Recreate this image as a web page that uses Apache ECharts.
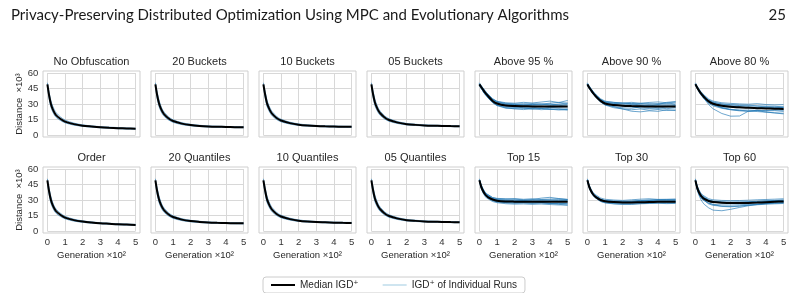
<!DOCTYPE html>
<html>
<head>
<meta charset="utf-8">
<script src="https://cdn.jsdelivr.net/npm/echarts@6/dist/echarts.min.js"></script>
<style>
    html, body { margin: 0; padding: 0; background: #fff; }
    #chart { width: 800px; height: 293px; }
</style>
</head>
<body>
<div id="chart"></div>
<script>
    // generation axis (x 10^2), shared by every run
    var generations = [0, 0.1, 0.2, 0.3, 0.4, 0.5, 0.75, 1, 1.5, 2, 2.5, 3, 3.5, 4, 4.5, 5]

    var xTicks = [0, 1, 2, 3, 4, 5]
    var yTicks = [0, 15, 30, 45, 60]

    var panelTitles = [
        'No Obfuscation', '20 Buckets', '10 Buckets', '05 Buckets', 'Above 95 %', 'Above 90 %', 'Above 80 %',
        'Order', '20 Quantiles', '10 Quantiles', '05 Quantiles', 'Top 15', 'Top 30', 'Top 60'
    ]

    // median IGD+ per panel (distance x 10^3)
    var medianNoObf = [49, 38, 30, 25, 21.5, 19, 15.5, 13, 10.5, 9, 8.2, 7.5, 7, 6.6, 6.3, 6.0]
    var median20B = [49, 38.5, 31, 26, 22.5, 20, 16, 13.5, 11, 9.6, 8.8, 8.3, 8, 7.8, 7.6, 7.5]
    var median10B = [49, 39, 31, 26.5, 23, 20.5, 16.5, 14, 11.5, 10, 9.2, 8.7, 8.4, 8.2, 8.0, 7.9]
    var median05B = [49, 39, 31.5, 27, 23.5, 21, 17, 14.5, 12, 10.5, 9.8, 9.3, 9.0, 8.8, 8.6, 8.5]
    var medianA95 = [49, 46.5, 44, 41.5, 39.5, 37.5, 33, 30.5, 28.5, 28, 27.8, 27.7, 27.6, 27.6, 27.5, 27.5]
    var medianA90 = [49, 46, 43.5, 41, 39, 37, 33, 30.5, 29, 28.3, 28, 27.8, 27.6, 27.5, 27.6, 27.7]
    var medianA80 = [49, 46, 43, 40.5, 38.5, 36.5, 32.5, 30.2, 28.3, 27.3, 26.8, 26.3, 26, 25.7, 25.4, 25.2]
    var medianOrder = [49, 38, 30, 25, 21.5, 19, 15.5, 13, 10.5, 9.1, 8.2, 7.5, 7, 6.5, 6.2, 5.9]
    var median20Q = [49, 38.5, 31, 26, 22.5, 20, 16, 13.5, 11, 9.6, 8.8, 8.2, 7.9, 7.7, 7.5, 7.4]
    var median10Q = [49, 39, 31, 26.5, 23, 20.5, 16.5, 14, 11.5, 10, 9.2, 8.7, 8.4, 8.1, 7.9, 7.8]
    var median05Q = [49, 39, 31.5, 27, 23.5, 21, 17, 14.5, 12, 10.5, 9.8, 9.3, 9, 8.8, 8.6, 8.5]
    var medianT15 = [49, 43, 39, 36, 34, 32.5, 30.5, 29.3, 28.6, 28.4, 28.3, 28.3, 28.3, 28.3, 28.2, 28.2]
    var medianT30 = [49, 43, 39, 36, 34, 32.5, 30, 28.8, 28, 27.6, 27.6, 27.8, 28, 28.2, 28.3, 28.4]
    var medianT60 = [49, 42, 37.5, 34.5, 32.5, 31, 29, 28, 27.3, 27, 27, 27.2, 27.5, 27.9, 28.3, 28.6]

    // individual runs per panel
    var runsNoObf = [
        [47.5, 35, 27, 22.5, 19.3, 17, 14, 11.8, 9.6, 8.4, 7.6, 7, 6.5, 6.1, 5.8, 5.5],
        [50.5, 41, 33, 28, 24.2, 21.4, 17.3, 14.4, 11.5, 9.8, 8.8, 8.1, 7.6, 7.2, 6.8, 6.5]
    ]
    var runs20B = [
        [47.5, 35.5, 28, 23.5, 20.3, 18, 14.5, 12.3, 10.1, 8.9, 8.2, 7.8, 7.5, 7.3, 7.1, 7],
        [50.5, 41.5, 34, 28.5, 24.7, 22, 17.5, 14.7, 11.9, 10.3, 9.4, 8.8, 8.5, 8.3, 8.1, 8]
    ]
    var runs10B = [
        [47.5, 36, 28, 24, 20.8, 18.5, 15, 12.8, 10.6, 9.3, 8.6, 8.2, 7.9, 7.7, 7.5, 7.4],
        [50.5, 42, 34, 29, 25.2, 22.5, 18, 15.2, 12.4, 10.7, 9.8, 9.2, 8.9, 8.7, 8.5, 8.4]
    ]
    var runs05B = [
        [47.5, 36, 28.5, 24.5, 21.3, 19, 15.5, 13.3, 11.1, 9.8, 9.2, 8.8, 8.5, 8.3, 8.1, 8],
        [50.5, 42, 34.5, 29.5, 25.7, 23, 18.5, 15.7, 12.9, 11.2, 10.4, 9.8, 9.5, 9.3, 9.1, 9]
    ]
    var runsA95 = [
        [47.5, 45, 42.5, 40, 38, 36, 31.5, 28.8, 26.4, 25.2, 24.6, 25.4, 24.5, 25, 24.2, 24.6],
        [50.5, 48, 45.5, 43.5, 41.2, 39.2, 35, 32.4, 30.6, 30.2, 29.6, 30.4, 29.9, 30.8, 31.6, 30.6],
        [49, 45.2, 42.4, 39.6, 37.8, 35.6, 31.2, 28.4, 25.9, 25.6, 26.4, 25, 25.8, 24.6, 25.3, 24.4],
        [49.2, 47.2, 44.6, 42.4, 40.3, 38.5, 34.4, 31.8, 29.8, 29.4, 30.3, 29.5, 30.1, 29.2, 30, 31],
        [48.5, 46.2, 43, 40.7, 38.8, 36.9, 32.6, 29.9, 27.6, 27.4, 26.2, 27, 25.6, 26.8, 26.3, 25.9],
        [49.7, 47.6, 45.3, 42.6, 40.8, 39, 35, 32.6, 31.2, 30.8, 31.6, 31, 31.9, 32.8, 31.4, 33.4],
        [48.8, 46, 43.3, 41.2, 39.2, 37.2, 32.9, 30.1, 28.6, 28.3, 27.9, 28.6, 27.8, 28.3, 28.9, 27.4],
        [49.2, 46.6, 44.3, 41.6, 39.4, 37.6, 33.3, 30.7, 28.9, 27.2, 28.1, 27.1, 27.9, 27, 27.7, 28.2],
        [48.3, 45.6, 42.7, 40, 38.1, 36.2, 31.8, 29, 26.9, 26.6, 25.8, 25.6, 26.3, 25.4, 24.8, 24.3],
        [49.6, 47.1, 44.9, 42.4, 40.3, 38.4, 34.2, 31.7, 29.9, 29.4, 28.9, 29.6, 29.2, 30.1, 29.1, 29.6]
    ]
    var runsA90 = [
        [47.5, 45, 42.5, 40, 38, 36, 31.8, 29, 26.4, 25.2, 24.4, 25.2, 24, 24.7, 23.8, 24.3],
        [50.5, 47.6, 45.2, 42.8, 40.8, 38.8, 35, 32.8, 31.5, 31, 31.6, 30.8, 31.5, 32, 31.2, 31.8],
        [49, 45.8, 43.2, 40.6, 38.7, 36.8, 32.5, 29.6, 27.4, 25.2, 23, 22.4, 23.4, 22.9, 24.4, 23.6],
        [49, 46.6, 44.2, 41.8, 39.7, 37.7, 33.9, 31.6, 30.4, 30, 29.7, 30.6, 29.6, 30.4, 30, 30.9],
        [48.5, 46, 43.4, 41, 38.9, 36.6, 32.8, 30.4, 28.6, 27.9, 27.2, 27.4, 26.8, 27.8, 27.3, 26.9],
        [49.5, 47, 44.5, 42.2, 40.2, 38.4, 34.5, 32.2, 31.6, 31, 30.2, 29, 28, 29.5, 31.6, 32.4],
        [48.8, 46.1, 43.6, 41.1, 39.1, 37.1, 33.1, 30.6, 29.1, 28.6, 28.9, 28.3, 28.6, 28.2, 28.5, 28.2],
        [49.2, 46.5, 43.9, 41.4, 39.4, 37.5, 33.5, 30.9, 29.4, 28.4, 27.4, 26.2, 25.6, 25.9, 27.2, 28.4],
        [48.4, 45.4, 42.8, 40.2, 38.2, 36.2, 32, 29.2, 27.5, 26.3, 25.9, 27.2, 27.8, 26.2, 25.5, 26.3],
        [49.6, 47, 44.4, 42, 40, 38.2, 34.3, 31.9, 30.6, 30.2, 30.6, 29.9, 30.4, 29.8, 30.2, 29.4]
    ]
    var runsA80 = [
        [48, 45.5, 42.5, 40, 38, 36, 32, 29.4, 26.4, 24.8, 24, 23.2, 22.7, 22.1, 21.5, 21],
        [50.5, 47.4, 44.6, 42.2, 40.3, 38.5, 34.8, 32.8, 31.2, 30.6, 30.1, 29.8, 30.3, 29.5, 29.1, 29.4],
        [49, 45.8, 42.6, 39.8, 37.4, 35, 29.5, 25.4, 20.8, 18.2, 18.4, 23, 24, 23.6, 24.3, 23.9],
        [49, 46.3, 43.5, 41, 39, 37.2, 33, 30.8, 28.8, 27.9, 27.2, 27, 26.4, 26.6, 25.9, 26.3],
        [48.5, 45, 41.8, 39, 36.8, 34.8, 30.6, 28.2, 25.8, 24.4, 23.4, 22.8, 23.6, 22.2, 21.3, 20.4],
        [49.5, 46.8, 44, 41.7, 39.6, 37.8, 33.9, 31.8, 30.2, 29.4, 29, 28.8, 28.3, 28, 27.8, 27.2],
        [48.8, 45.9, 43.1, 40.6, 38.6, 36.7, 32.7, 30.4, 28.5, 27.6, 27.1, 26.6, 26.2, 25.8, 25.3, 24.8],
        [49.2, 46.3, 43.3, 40.8, 38.8, 36.9, 32.6, 29.6, 26.4, 24.6, 24, 24.1, 23.8, 23.3, 23.6, 22.8],
        [48.6, 45.4, 42.3, 39.6, 37.5, 35.5, 31.4, 29.1, 27.2, 26.8, 26.3, 26.9, 26.3, 27, 26.6, 27.1],
        [49.4, 46.6, 43.8, 41.4, 39.5, 37.6, 33.7, 31.5, 29.8, 28.9, 28.5, 28.1, 27.8, 27.3, 27, 26.5]
    ]
    var runsOrder = [
        [47.5, 35, 27, 22.5, 19.3, 17, 14, 11.8, 9.6, 8.4, 7.6, 7, 6.5, 6, 5.7, 5.4],
        [50.5, 41, 33, 27.5, 23.7, 21, 17, 14.2, 11.4, 9.8, 8.8, 8, 7.5, 7, 6.7, 6.4]
    ]
    var runs20Q = [
        [47.5, 35.5, 28, 23.5, 20.3, 18, 14.5, 12.3, 10.1, 8.9, 8.2, 7.7, 7.4, 7.2, 7, 6.9],
        [50.5, 41.5, 34, 28.5, 24.7, 22, 17.5, 14.7, 11.9, 10.3, 9.4, 8.7, 8.4, 8.2, 8, 7.9]
    ]
    var runs10Q = [
        [47.5, 36, 28, 24, 20.8, 18.5, 15, 12.8, 10.6, 9.3, 8.6, 8.2, 7.9, 7.6, 7.4, 7.3],
        [50.5, 42, 34, 29, 25.2, 22.5, 18, 15.2, 12.4, 10.7, 9.8, 9.2, 8.9, 8.6, 8.4, 8.3]
    ]
    var runs05Q = [
        [47.5, 36, 28.5, 24.5, 21.3, 19, 15.5, 13.3, 11.1, 9.8, 9.2, 8.8, 8.5, 8.3, 8.1, 8],
        [50.5, 42, 34.5, 29.5, 25.7, 23, 18.5, 15.7, 12.9, 11.2, 10.4, 9.8, 9.5, 9.3, 9.1, 9]
    ]
    var runsT15 = [
        [48, 41, 37, 34, 32, 30.5, 28.5, 27.4, 26.4, 26, 26.2, 25.8, 26.1, 25.6, 25.2, 25.4],
        [50.5, 45, 41.2, 38.2, 36.2, 34.6, 32.3, 31.2, 30.8, 31.4, 30.7, 31.2, 30.5, 30.9, 31.2, 30.6],
        [49, 42.2, 38.2, 35.4, 33.3, 31.8, 29.6, 28.3, 27.4, 27, 27.3, 26.8, 27, 26.6, 26.9, 26.4],
        [49, 43.8, 39.8, 37, 35, 33.4, 31.4, 30.4, 29.9, 29.8, 29.6, 30.4, 31.8, 32.6, 31.4, 30.5],
        [48.5, 42.6, 38.6, 35.6, 33.6, 32.2, 30, 28.9, 28.2, 28.1, 27.9, 28.4, 27.6, 26.8, 25.9, 24.8],
        [49.5, 44.4, 40.6, 37.8, 35.8, 34.3, 32.4, 31.6, 31.2, 30.8, 30.2, 29.8, 30.3, 29.9, 30.4, 30.1],
        [48.8, 42.8, 38.9, 36, 34, 32.6, 30.6, 29.5, 28.8, 28.7, 28.9, 28.5, 28.9, 28.6, 28.8, 28.9],
        [49.2, 43.3, 39.3, 36.4, 34.3, 32.8, 30.8, 29.6, 28.9, 28.2, 28.6, 28, 28.3, 28.7, 28.1, 28.4],
        [48.6, 42, 38, 35, 33, 31.5, 29.4, 28.2, 27.5, 27.1, 27.3, 26.9, 27.5, 27, 26.5, 26.9],
        [49.4, 43.8, 39.9, 37, 35, 33.4, 31.4, 30.4, 29.8, 29.8, 29.5, 29.9, 29.6, 29.9, 29.4, 29.7]
    ]
    var runsT30 = [
        [48, 41.6, 37.6, 34.6, 32.6, 31, 28.5, 27.2, 26.2, 25.8, 25.7, 26.3, 26.6, 26.8, 26.5, 26.7],
        [50.5, 44.8, 40.8, 37.9, 35.8, 34.3, 31.9, 30.7, 30, 29.6, 30.2, 30.8, 31.2, 30.6, 30.7, 31],
        [49, 42.6, 38.4, 35.5, 33.4, 31.9, 29.4, 28.2, 27.2, 26.9, 27, 27.5, 27.8, 28.3, 28, 28.2],
        [49, 43.6, 39.7, 36.8, 34.8, 33.2, 30.8, 29.7, 29.2, 28.8, 29, 29.6, 29.9, 30.1, 30.3, 30.2],
        [48.5, 42.2, 38.1, 35.1, 33, 31.4, 28.8, 27.5, 26.5, 26, 26.2, 26.6, 26.9, 27.2, 27, 27.1],
        [49.5, 43.9, 39.9, 36.9, 34.7, 33.1, 30.6, 29.3, 28.5, 28.2, 28.7, 29.4, 29.9, 30.3, 30.1, 29.8],
        [48.8, 42.9, 38.9, 36, 34, 32.5, 30.1, 28.9, 28.1, 27.8, 27.8, 28.1, 28.3, 28.5, 28.6, 28.7],
        [49.2, 43.2, 39.2, 36.2, 34.2, 32.7, 30.3, 29, 28.3, 27.9, 28, 28.5, 28.8, 28.9, 29.1, 29],
        [48.6, 42.6, 38.6, 35.7, 33.7, 32.2, 29.7, 28.5, 27.6, 27.2, 27.3, 27.5, 27.6, 27.9, 28.1, 27.9],
        [49.4, 43.4, 39.4, 36.4, 34.4, 32.9, 30.4, 29.2, 28.4, 28.1, 28.3, 29, 29.5, 29.7, 29.9, 30.2]
    ]
    var runsT60 = [
        [48, 40.2, 35.6, 32.6, 30.5, 29, 26.8, 25.8, 25.2, 25.1, 25.4, 25.8, 26.2, 26.6, 27, 27.2],
        [50.5, 44, 39.8, 36.9, 34.9, 33.4, 31.2, 30.2, 29.6, 29.4, 29.5, 29.8, 30.2, 30.5, 30.8, 31.2],
        [49, 40, 34.6, 30.8, 28, 25.8, 22.4, 20.2, 19.6, 21, 22.8, 24.4, 25.6, 26.4, 27, 27.4],
        [49, 42.8, 38.4, 35.4, 33.4, 31.8, 29.5, 28.4, 27.7, 27.4, 27.4, 27.7, 28, 28.5, 28.9, 29.2],
        [48.5, 41, 36.4, 33.2, 30.8, 29, 26.2, 24.8, 24, 23.8, 24.2, 24.8, 25.4, 25.9, 26.3, 26.6],
        [49.5, 43.2, 39, 36, 34, 32.5, 30.2, 29, 28.2, 28, 28.1, 28.4, 28.8, 29.3, 29.6, 30.1],
        [48.8, 41.8, 37.3, 34.3, 32.3, 30.8, 28.8, 27.8, 27.1, 26.8, 26.9, 27.1, 27.4, 27.8, 28.2, 28.5],
        [49.2, 42.3, 37.8, 34.8, 32.8, 31.3, 29.2, 28.2, 27.6, 27.3, 27.3, 27.5, 27.8, 28.2, 28.6, 28.9],
        [48.6, 41.4, 36.8, 33.6, 31.4, 29.8, 27.2, 25.6, 23.8, 23.4, 24.1, 25, 26, 26.8, 27.5, 28],
        [49.4, 42.7, 38.2, 35.2, 33.2, 31.7, 29.6, 28.6, 28, 27.8, 27.9, 28.2, 28.6, 29, 29.4, 29.7]
    ]

    var panelMedians = [medianNoObf, median20B, median10B, median05B, medianA95, medianA90, medianA80,
        medianOrder, median20Q, median10Q, median05Q, medianT15, medianT30, medianT60]
    var panelRuns = [runsNoObf, runs20B, runs10B, runs05B, runsA95, runsA90, runsA80,
        runsOrder, runs20Q, runs10Q, runs05Q, runsT15, runsT30, runsT60]

    var MEDIAN_NAME = 'Median IGD\u207A'
    var RUNS_NAME = 'IGD\u207A of Individual Runs'

    var FONT = '"Liberation Sans", Arial, "DejaVu Sans", sans-serif'
    var frameLeft = [43, 151, 259, 367, 475, 583, 691]
    var frameTop = [71, 167]
    var frameW = 97, frameH = 66, padX = 4.4, padY = 2

    function pairs(ys) {
        return generations.map(function (g, i) { return [g, ys[i]] })
    }

    var grids = [], xAxes = [], yAxes = [], series = []
    var titles = [
        {text: 'Privacy-Preserving Distributed Optimization Using MPC and Evolutionary Algorithms',
            left: 6, top: 3, textStyle: {fontFamily: 'Lato', fontSize: 15, fontWeight: 'normal', color: '#1a1a1a'}},
        {text: '25', right: 9, top: 3, textStyle: {fontFamily: 'Lato', fontSize: 15, fontWeight: 'normal', color: '#1a1a1a'}}
    ]

    panelTitles.forEach(function (title, p) {
        var row = p < 7 ? 0 : 1
        var col = p % 7
        var fl = frameLeft[col], ft = frameTop[row]
        var smoothRuns = col < 4 ? 0.3 : false

        // outer frame
        grids.push({left: fl, top: ft, width: frameW, height: frameH, show: true,
            borderColor: '#cfcfcf', borderWidth: 1, backgroundColor: '#fff'})
        xAxes.push({gridIndex: 2 * p, type: 'value', show: false, min: 0, max: 1})
        yAxes.push({gridIndex: 2 * p, type: 'value', show: false, min: 0, max: 1})

        // data area
        grids.push({left: fl + padX, top: ft + padY, width: frameW - 2 * padX, height: frameH - 2 * padY})
        xAxes.push({
            gridIndex: 2 * p + 1, type: 'value', min: xTicks[0], max: xTicks[xTicks.length - 1], interval: 1,
            axisLine: {show: false}, axisTick: {show: false},
            splitLine: {lineStyle: {color: '#d8d8d8', width: 1}},
            axisLabel: {show: row === 1, margin: 6, fontSize: 9.5, color: '#333', fontFamily: FONT},
            name: row === 1 ? 'Generation \u00D710\u00B2' : '', nameLocation: 'middle', nameGap: 19,
            nameTextStyle: {fontSize: 9.5, color: '#262626', fontFamily: FONT}
        })
        yAxes.push({
            gridIndex: 2 * p + 1, type: 'value', min: yTicks[0], max: yTicks[yTicks.length - 1], interval: 15,
            axisLine: {show: false}, axisTick: {show: false},
            splitLine: {lineStyle: {color: '#d8d8d8', width: 1}},
            axisLabel: {show: col === 0, margin: 9, fontSize: 9.5, color: '#333', fontFamily: FONT},
            name: col === 0 ? 'Distance  \u00D710\u00B3' : '', nameLocation: 'middle', nameGap: 23,
            nameTextStyle: {fontSize: 9.5, color: '#262626', fontFamily: FONT}
        })

        titles.push({text: title, left: fl + frameW / 2, top: ft - 15, textAlign: 'center', padding: 0,
            textStyle: {fontSize: 11, fontWeight: 'normal', color: '#262626', fontFamily: FONT}})

        panelRuns[p].forEach(function (run) {
            series.push({
                name: RUNS_NAME, type: 'line', xAxisIndex: 2 * p + 1, yAxisIndex: 2 * p + 1,
                data: pairs(run), symbol: 'none', smooth: smoothRuns,
                lineStyle: {color: '#1f77b4', width: 1, opacity: 0.65}, itemStyle: {color: '#1f77b4'},
                silent: true, z: 2
            })
        })
        series.push({
            name: MEDIAN_NAME, type: 'line', xAxisIndex: 2 * p + 1, yAxisIndex: 2 * p + 1,
            data: pairs(panelMedians[p]), symbol: 'none', smooth: 0.3,
            lineStyle: {color: '#000', width: 2}, itemStyle: {color: '#000'},
            silent: true, z: 3
        })
    })

    var chart = echarts.init(document.getElementById('chart'), null, {renderer: 'canvas'})
    chart.setOption({
        animation: false,
        backgroundColor: '#fff',
        title: titles,
        grid: grids,
        xAxis: xAxes,
        yAxis: yAxes,
        legend: {
            left: 263, top: 277, padding: [3, 8, 3, 8], itemGap: 24, itemWidth: 24, itemHeight: 10,
            borderColor: '#cccccc', borderWidth: 1, borderRadius: 3, backgroundColor: '#fff',
            textStyle: {fontSize: 10, color: '#262626', fontFamily: FONT},
            data: [
                {name: MEDIAN_NAME, icon: 'path://M0,0L24,0L24,2L0,2Z', itemStyle: {color: '#000'}},
                {name: RUNS_NAME, icon: 'path://M0,0L24,0L24,1L0,1Z', itemStyle: {color: '#9ecae1'}}
            ]
        },
        series: series
    })
</script>
</body>
</html>
